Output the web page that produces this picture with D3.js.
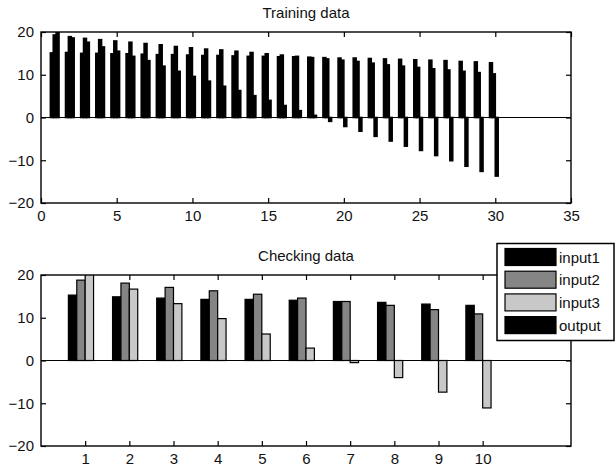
<!DOCTYPE html>
<html>
<head>
<meta charset="utf-8">
<script src="https://cdn.jsdelivr.net/npm/d3@7"></script>
<style>
  body { margin: 0; background: #fff; }
  svg text { font-family: "Liberation Sans", Arial, sans-serif; fill: #111; }
  .tick line { stroke: #000; stroke-width: 1.2; }
  .domain { display: none; }
</style>
</head>
<body>
<div id="chart"></div>
<script>
// series names and colours (legend order)
const seriesNames = ["input1", "input2", "input3", "output"];
const checkColors = ["#000000", "#858585", "#c8c8c8", "#000000"];

// training data, x = 1..30
const trainX = [1, 2, 3, 4, 5, 6, 7, 8, 9, 10, 11, 12, 13, 14, 15,
                16, 17, 18, 19, 20, 21, 22, 23, 24, 25, 26, 27, 28, 29, 30];
const trainInput1 = [15.1, 15.2, 15.0, 15.0, 14.9, 14.9, 14.8, 14.7, 14.7, 14.6,
                     14.5, 14.5, 14.4, 14.3, 14.3, 14.2, 14.2, 14.1, 14.0, 13.9,
                     13.9, 13.8, 13.7, 13.6, 13.5, 13.4, 13.3, 13.1, 13.0, 12.8];
const trainInput2 = [19.3, 18.9, 18.5, 18.2, 17.9, 17.6, 17.3, 17.0, 16.6, 16.3,
                     16.0, 15.8, 15.5, 15.2, 14.9, 14.6, 14.3, 14.0, 13.7, 13.4,
                     13.1, 12.7, 12.3, 12.0, 11.7, 11.4, 11.1, 10.8, 10.5, 10.2];
const trainInput3 = [20.0, 18.6, 17.6, 16.5, 15.5, 14.3, 13.3, 12.0, 10.8, 9.6,
                     8.5, 7.3, 6.3, 5.1, 4.0, 2.8, 1.6, 0.5, -0.9, -2.1,
                     -3.2, -4.4, -5.5, -6.7, -7.7, -8.9, -10.1, -11.4, -12.6, -13.7];
const trainOutput = [0, 0, 0, 0, 0, 0, 0, 0, 0, 0, 0, 0, 0, 0, 0,
                     0, 0, 0, 0, 0, 0, 0, 0, 0, 0, 0, 0, 0, 0, 0];

// checking data, x = 1..10
const checkX = [1, 2, 3, 4, 5, 6, 7, 8, 9, 10];
const checkInput1 = [15.3, 14.9, 14.6, 14.3, 14.3, 14.1, 13.8, 13.6, 13.2, 12.9];
const checkInput2 = [18.8, 18.1, 17.1, 16.3, 15.5, 14.6, 13.8, 12.9, 11.9, 10.9];
const checkInput3 = [20.5, 16.7, 13.3, 9.8, 6.2, 2.9, -0.5, -4.0, -7.4, -11.1];
const checkOutput = [0, 0, 0, 0, 0, 0, 0, 0, 0, 0];

// axis ticks
const yTicks = [-20, -10, 0, 10, 20];
const trainXTicks = [0, 5, 10, 15, 20, 25, 30, 35];

const W = 616, H = 467;
const FS = 15;
const svg = d3.select("#chart").append("svg")
    .attr("width", W)
    .attr("height", H);

const barW = 0.19; // bar width in x units, four bars per group

function drawPanel(opts) {
    const x = d3.scaleLinear().domain(opts.xDomain).range([opts.left, opts.right]);
    const y = d3.scaleLinear().domain([-20, 20]).range([opts.bottom, opts.top]);
    const id = "clip" + opts.name;

    svg.append("clipPath").attr("id", id)
        .append("rect")
        .attr("x", opts.left).attr("y", opts.top)
        .attr("width", opts.right - opts.left).attr("height", opts.bottom - opts.top);

    const g = svg.append("g");

    // axes: inward ticks on all four sides
    g.append("g")
        .attr("transform", `translate(0,${opts.bottom})`)
        .call(d3.axisBottom(x).tickValues(opts.xTicks).tickSizeInner(-5).tickSizeOuter(0).tickPadding(7).tickFormat(d3.format("d")))
        .call(a => a.selectAll("text").attr("font-size", FS));
    g.append("g")
        .attr("transform", `translate(0,${opts.top})`)
        .call(d3.axisTop(x).tickValues(opts.xTicks).tickSizeInner(-5).tickSizeOuter(0).tickFormat(""));
    g.append("g")
        .attr("transform", `translate(${opts.left},0)`)
        .call(d3.axisLeft(y).tickValues(yTicks).tickSizeInner(-5).tickSizeOuter(0).tickPadding(7))
        .call(a => a.selectAll("text").attr("font-size", FS));
    g.append("g")
        .attr("transform", `translate(${opts.right},0)`)
        .call(d3.axisRight(y).tickValues(yTicks).tickSizeInner(-5).tickSizeOuter(0).tickFormat(""));

    // bars
    const bars = g.append("g").attr("clip-path", `url(#${id})`);
    opts.series.forEach((vals, si) => {
        const off = (si - 1.5) * barW;
        bars.selectAll(null)
            .data(vals.map((v, i) => ({ x: opts.xs[i], v: v })))
            .enter().append("rect")
            .attr("x", d => x(d.x + off - barW / 2))
            .attr("width", d => x(d.x + off + barW / 2) - x(d.x + off - barW / 2))
            .attr("y", d => y(Math.max(0, d.v)))
            .attr("height", d => Math.abs(y(d.v) - y(0)))
            .attr("fill", opts.colors[si])
            .attr("stroke", "#000")
            .attr("stroke-width", opts.barStroke);
    });

    // zero baseline
    g.append("line")
        .attr("x1", opts.left).attr("x2", opts.right)
        .attr("y1", y(0)).attr("y2", y(0))
        .attr("stroke", "#000").attr("stroke-width", 1.2);

    // box
    g.append("rect")
        .attr("x", opts.left).attr("y", opts.top)
        .attr("width", opts.right - opts.left).attr("height", opts.bottom - opts.top)
        .attr("fill", "none").attr("stroke", "#000").attr("stroke-width", 1.4);

    // title
    svg.append("text")
        .attr("x", (opts.left + opts.right) / 2)
        .attr("y", opts.top - 14)
        .attr("text-anchor", "middle")
        .attr("font-size", FS)
        .text(opts.title);
}

drawPanel({
    name: "train", title: "Training data",
    left: 41, right: 571, top: 32, bottom: 203,
    xDomain: [0, 35], xTicks: trainXTicks, xs: trainX,
    series: [trainInput1, trainInput2, trainInput3, trainOutput],
    colors: ["#000", "#000", "#000", "#000"], barStroke: 1.6
});

drawPanel({
    name: "check", title: "Checking data",
    left: 41, right: 571, top: 275, bottom: 446,
    xDomain: [0, 12], xTicks: checkX, xs: checkX,
    series: [checkInput1, checkInput2, checkInput3, checkOutput],
    colors: checkColors, barStroke: 1.2
});

// legend
const lg = svg.append("g");
lg.append("rect")
    .attr("x", 497).attr("y", 243.5)
    .attr("width", 117).attr("height", 97)
    .attr("fill", "#fff").attr("stroke", "#000").attr("stroke-width", 1.5);
seriesNames.forEach((name, i) => {
    const yy = 248.5 + i * 22.7;
    lg.append("rect")
        .attr("x", 505).attr("y", yy)
        .attr("width", 51).attr("height", 17)
        .attr("fill", checkColors[i]).attr("stroke", "#000").attr("stroke-width", 1.2);
    lg.append("text")
        .attr("x", 559).attr("y", yy + 14)
        .attr("font-size", FS)
        .text(name);
});
</script>
</body>
</html>
